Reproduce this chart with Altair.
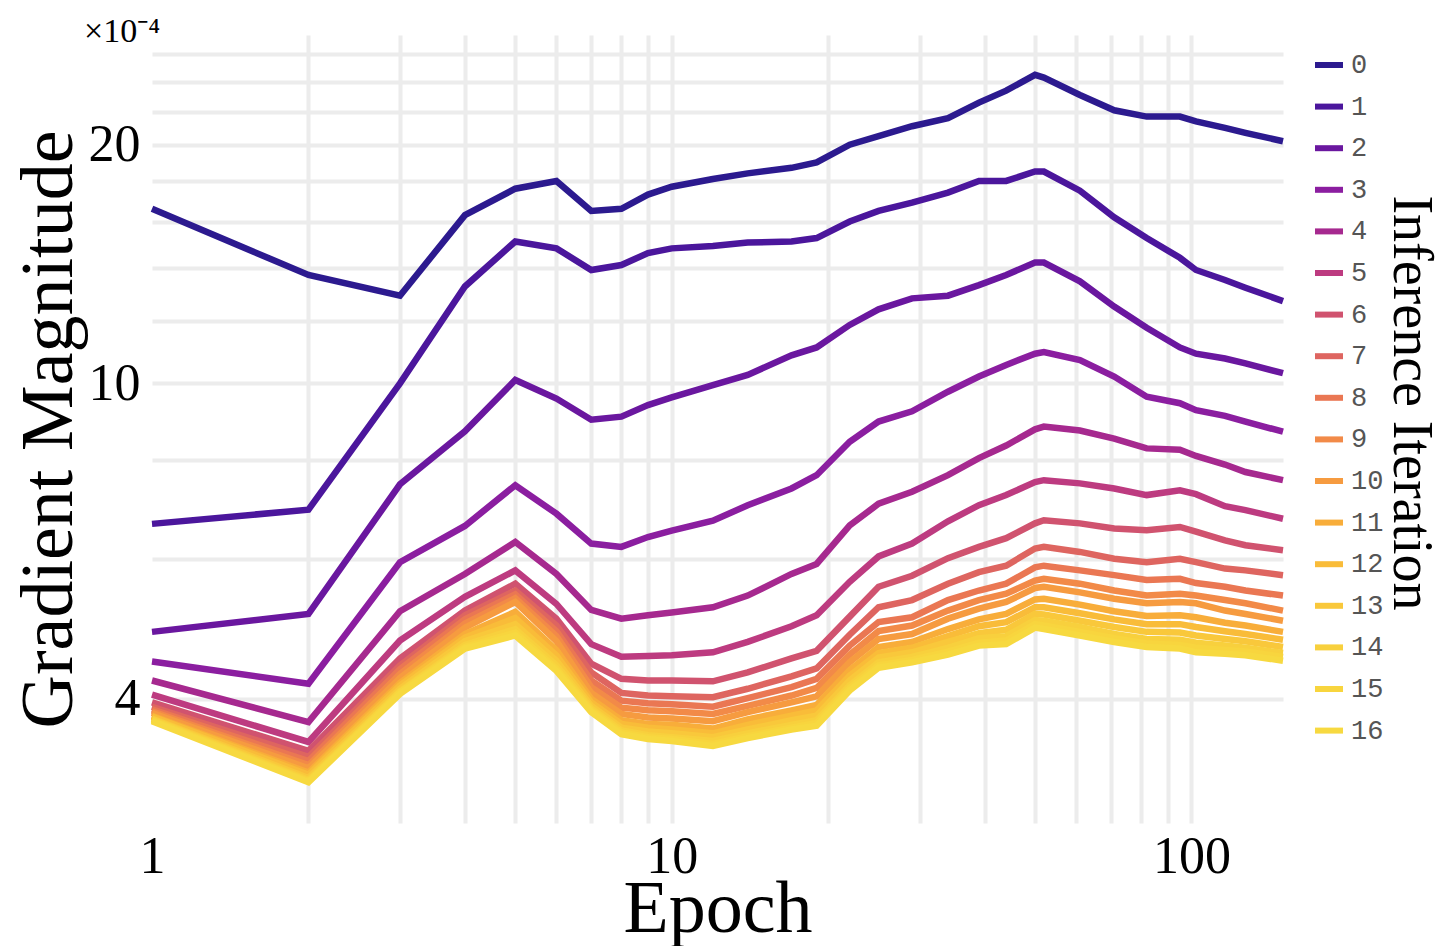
import altair as alt
import pandas as pd

EPOCHS = [1, 2, 3, 4, 5, 6, 7, 8, 9, 10, 12, 14, 17, 19, 22, 25, 29, 34, 39, 44,
          50, 52, 61, 71, 82, 95, 102, 116, 127, 150]

S0 = [16.6, 13.7, 12.9, 16.3, 17.6, 18.0, 16.5, 16.6, 17.3, 17.7, 18.1, 18.4, 18.7, 19.0, 20.0,
      20.5, 21.1, 21.6, 22.6, 23.4, 24.5, 24.3, 23.1, 22.1, 21.7, 21.7, 21.4, 21.0, 20.7, 20.2]
S1 = [6.65, 6.93, 10.0, 13.25, 15.1, 14.8, 13.9, 14.1, 14.6, 14.8, 14.9, 15.05, 15.1, 15.25, 16.0,
      16.5, 16.9, 17.4, 18.0, 18.0, 18.5, 18.5, 17.5, 16.2, 15.25, 14.4, 13.9, 13.5, 13.2, 12.7]
S2 = [4.86, 5.12, 7.46, 8.7, 10.1, 9.57, 9.0, 9.08, 9.39, 9.6, 9.95, 10.25, 10.85, 11.1, 11.85,
      12.4, 12.8, 12.9, 13.3, 13.7, 14.2, 14.2, 13.45, 12.5, 11.75, 11.1, 10.9, 10.75, 10.6, 10.3]
S3 = [4.46, 4.18, 5.95, 6.61, 7.44, 6.85, 6.28, 6.22, 6.40, 6.52, 6.71, 7.02, 7.37, 7.66, 8.44,
      8.95, 9.22, 9.76, 10.2, 10.55, 10.9, 10.95, 10.7, 10.2, 9.62, 9.44, 9.25, 9.1, 8.95, 8.69]
S4 = [4.22, 3.74, 5.16, 5.75, 6.31, 5.75, 5.18, 5.05, 5.10, 5.14, 5.22, 5.40, 5.75, 5.92, 6.62,
      7.05, 7.30, 7.66, 8.05, 8.35, 8.75, 8.82, 8.72, 8.52, 8.28, 8.25, 8.1, 7.9, 7.73, 7.55]
S5 = [4.05, 3.53, 4.74, 5.38, 5.81, 5.27, 4.69, 4.52, 4.53, 4.54, 4.58, 4.72, 4.94, 5.10, 5.62,
      6.05, 6.28, 6.70, 7.02, 7.23, 7.51, 7.55, 7.48, 7.37, 7.23, 7.33, 7.25, 7.0, 6.92, 6.75]
S6 = [3.96, 3.44, 4.50, 5.17, 5.59, 5.05, 4.43, 4.24, 4.22, 4.22, 4.21, 4.32, 4.50, 4.60, 5.08,
      5.54, 5.72, 6.02, 6.22, 6.38, 6.66, 6.72, 6.66, 6.56, 6.53, 6.59, 6.5, 6.34, 6.25, 6.16]
S7 = [3.91, 3.38, 4.41, 5.10, 5.48, 4.95, 4.32, 4.07, 4.04, 4.03, 4.02, 4.12, 4.27, 4.37, 4.82,
      5.22, 5.33, 5.59, 5.78, 5.89, 6.19, 6.22, 6.13, 6.01, 5.95, 6.01, 5.95, 5.84, 5.81, 5.73]
S8 = [3.88, 3.34, 4.36, 5.04, 5.42, 4.87, 4.22, 3.98, 3.95, 3.94, 3.91, 4.01, 4.14, 4.24, 4.67,
      5.0, 5.07, 5.33, 5.48, 5.59, 5.86, 5.89, 5.81, 5.73, 5.65, 5.67, 5.6, 5.54, 5.48, 5.40]
S9 = [3.86, 3.30, 4.30, 4.98, 5.36, 4.80, 4.14, 3.90, 3.87, 3.86, 3.83, 3.92, 4.04, 4.13, 4.55,
      4.87, 4.95, 5.17, 5.33, 5.43, 5.64, 5.67, 5.59, 5.48, 5.40, 5.43, 5.40, 5.33, 5.28, 5.17]
S10 = [3.84, 3.27, 4.25, 4.92, 5.30, 4.73, 4.07, 3.83, 3.79, 3.78, 3.75, 3.85, 3.96, 4.03, 4.45,
       4.76, 4.83, 5.05, 5.20, 5.30, 5.52, 5.54, 5.45, 5.35, 5.28, 5.30, 5.28, 5.17, 5.12, 5.02]
S11 = [3.81, 3.23, 4.19, 4.83, 5.15, 4.61, 4.00, 3.76, 3.72, 3.71, 3.67, 3.77, 3.87, 3.93, 4.35,
       4.65, 4.72, 4.90, 5.04, 5.12, 5.34, 5.35, 5.26, 5.16, 5.09, 5.10, 5.07, 4.99, 4.95, 4.86]
S12 = [3.80, 3.21, 4.16, 4.78, 5.06, 4.54, 3.96, 3.72, 3.68, 3.66, 3.62, 3.71, 3.81, 3.87, 4.28,
       4.57, 4.64, 4.80, 4.94, 5.00, 5.22, 5.22, 5.13, 5.04, 4.97, 4.97, 4.93, 4.87, 4.83, 4.75]
S13 = [3.78, 3.18, 4.12, 4.73, 4.97, 4.47, 3.92, 3.68, 3.64, 3.62, 3.58, 3.66, 3.76, 3.81, 4.22,
       4.51, 4.58, 4.72, 4.84, 4.89, 5.12, 5.11, 5.02, 4.93, 4.86, 4.85, 4.81, 4.76, 4.73, 4.65]
S14 = [3.77, 3.16, 4.09, 4.68, 4.90, 4.41, 3.89, 3.65, 3.60, 3.58, 3.54, 3.62, 3.71, 3.76, 4.16,
       4.45, 4.52, 4.64, 4.77, 4.80, 5.03, 5.02, 4.93, 4.83, 4.76, 4.75, 4.71, 4.67, 4.64, 4.57]
S15 = [3.76, 3.15, 4.08, 4.65, 4.85, 4.37, 3.87, 3.63, 3.58, 3.56, 3.51, 3.59, 3.68, 3.73, 4.13,
       4.41, 4.48, 4.59, 4.71, 4.74, 4.97, 4.95, 4.86, 4.77, 4.70, 4.68, 4.64, 4.61, 4.59, 4.52]
S16 = [3.75, 3.14, 4.06, 4.63, 4.81, 4.34, 3.85, 3.61, 3.56, 3.54, 3.49, 3.57, 3.66, 3.70, 4.10,
       4.38, 4.45, 4.55, 4.67, 4.69, 4.92, 4.90, 4.81, 4.72, 4.65, 4.63, 4.58, 4.56, 4.54, 4.47]

SERIES = [S0, S1, S2, S3, S4, S5, S6, S7, S8, S9, S10, S11, S12, S13, S14, S15, S16]
ITERATIONS = list(range(17))
COLORS = ["#2c1a8f", "#4b169c", "#6a179f", "#8b1ea0", "#a6298f", "#bd3b80", "#d0536f",
          "#de6560", "#ea7753", "#f28a48", "#f69b40", "#f8ad3a", "#f9bc39", "#f9c83b",
          "#f8d03d", "#f8d53e", "#f7d940"]

X_GRID = [1, 2, 3, 4, 5, 6, 7, 8, 9, 10, 20, 30, 40, 50, 60, 70, 80, 90, 100]
Y_GRID = [4, 6, 8, 10, 12, 14, 16, 18, 20, 22, 24, 26]
LEGEND_TITLE = ["Inference Iteration"]

rows = []
for it, vals in zip(ITERATIONS, SERIES):
    assert len(vals) == len(EPOCHS)
    for e, v in zip(EPOCHS, vals):
        rows.append({"Epoch": e, "Gradient": v, "Iteration": it})
df = pd.DataFrame(rows)

SERIF = "Liberation Serif"

lines = alt.Chart(df).mark_line(strokeWidth=6.5).encode(
    x=alt.X("Epoch:Q",
            scale=alt.Scale(type="log", domain=[1, 150], nice=False),
            axis=alt.Axis(values=X_GRID, title="Epoch",
                          labelExpr="datum.value == 1 || datum.value == 10 || datum.value == 100 ? format(datum.value, 'd') : ''",
                          ticks=False, tickSize=0, domain=False, grid=True,
                          gridColor="#ececec", gridWidth=4,
                          gridOpacity={"condition": {"test": "datum.value == 1", "value": 0}, "value": 1},
                          labelFont=SERIF, labelFontSize=52, labelColor="black",
                          labelPadding=8, labelFlush=False, labelOverlap=False,
                          titleFont=SERIF, titleFontSize=74, titleFontWeight="normal",
                          titleColor="black", titlePadding=-9)),
    y=alt.Y("Gradient:Q",
            scale=alt.Scale(type="log", domain=[2.79, 27.5], nice=False),
            axis=alt.Axis(values=Y_GRID, title="Gradient Magnitude",
                          labelExpr="datum.value == 4 || datum.value == 10 || datum.value == 20 ? format(datum.value, 'd') : ''",
                          ticks=False, tickSize=0, domain=False, grid=True,
                          gridColor="#ececec", gridWidth=4,
                          labelFont=SERIF, labelFontSize=52, labelColor="black",
                          labelPadding=12, labelOverlap=False,
                          titleFont=SERIF, titleFontSize=74, titleFontWeight="normal",
                          titleColor="black", titlePadding=1)),
    color=alt.Color("Iteration:O",
                    scale=alt.Scale(domain=ITERATIONS, range=COLORS),
                    legend=alt.Legend(title=None, orient="none",
                                      legendX=1160, legendY=13,
                                      symbolType="stroke", symbolStrokeWidth=6,
                                      symbolSize=784, symbolLimit=30,
                                      labelFont="Liberation Mono", labelFontSize=27,
                                      labelColor="#555555", labelOffset=5,
                                      rowPadding=11.6, padding=0)),
)

legend_title = alt.Chart(pd.DataFrame({"t": LEGEND_TITLE})).mark_text(
    angle=90, font=SERIF, fontSize=56, align="center", baseline="alphabetic", color="black"
).encode(text="t:N", x=alt.value(1242), y=alt.value(368))

chart = alt.layer(lines, legend_title).properties(
    width=1131, height=788,
    title=alt.TitleParams(text="×10⁻⁴", anchor="start", frame="group", dx=-68,
                          offset=-21, fontSize=34, font=SERIF, fontWeight="normal",
                          color="black"),
).configure(
    padding={"left": 4, "top": 7, "right": 0, "bottom": 0}
).configure_view(strokeWidth=0)

chart.save("out.html", embed_options={"renderer": "svg", "actions": False})
